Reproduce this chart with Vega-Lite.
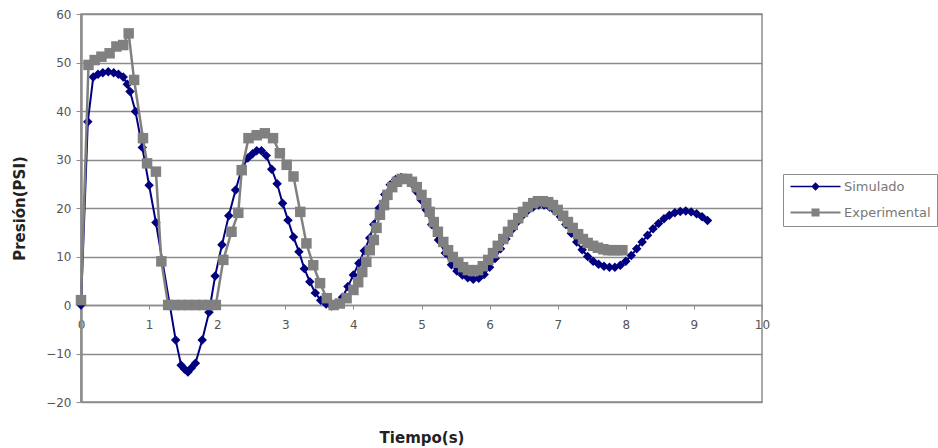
{
  "$schema": "https://vega.github.io/schema/vega-lite/v6.json",
  "autosize": {"type": "none"},
  "width": 681,
  "height": 388,
  "padding": {"left": 81, "top": 14, "right": 176, "bottom": 46},
  "background": "white",
  "config": {
    "view": {"stroke": "#8c8c8c", "strokeWidth": 1.5},
    "font": "DejaVu Sans"
  },
  "datasets": {
    "sim": [
      {"t":0.0,"p":0},{"t":0.1,"p":37.8},{"t":0.18,"p":47.0},{"t":0.25,"p":47.6},{"t":0.32,"p":47.9},{"t":0.4,"p":48.1},{"t":0.48,"p":47.9},{"t":0.55,"p":47.6},{"t":0.62,"p":47.0},{"t":0.68,"p":45.5},{"t":0.72,"p":44.0},{"t":0.8,"p":39.9},{"t":0.9,"p":32.5},{"t":1.0,"p":24.7},{"t":1.1,"p":17.0},{"t":1.39,"p":-7.2},{"t":1.47,"p":-12.4},{"t":1.52,"p":-13.2},{"t":1.57,"p":-13.8},{"t":1.62,"p":-13.0},{"t":1.68,"p":-12.0},{"t":1.78,"p":-7.2},{"t":1.88,"p":-1.5},{"t":1.97,"p":6.0},{"t":2.07,"p":12.4},{"t":2.17,"p":18.4},{"t":2.27,"p":23.7},{"t":2.36,"p":28.0},{"t":2.45,"p":30.3},{"t":2.52,"p":31.2},{"t":2.58,"p":31.8},{"t":2.65,"p":31.8},{"t":2.72,"p":30.8},{"t":2.8,"p":28.0},{"t":2.88,"p":25.0},{"t":2.96,"p":21.0},{"t":3.04,"p":17.5},{"t":3.12,"p":14.0},{"t":3.2,"p":11.0},{"t":3.28,"p":7.5},{"t":3.36,"p":4.8},{"t":3.44,"p":2.5},{"t":3.52,"p":1.0},{"t":3.6,"p":0.2},{"t":3.68,"p":-0.2},{"t":3.76,"p":0.2},{"t":3.84,"p":1.6},{"t":3.92,"p":3.8},{"t":4.0,"p":6.2},{"t":4.08,"p":8.6},{"t":4.16,"p":11.2},{"t":4.24,"p":13.8},{"t":4.3,"p":16.6},{"t":4.38,"p":20.0},{"t":4.46,"p":22.8},{"t":4.54,"p":24.8},{"t":4.62,"p":25.9},{"t":4.7,"p":26.3},{"t":4.78,"p":26.0},{"t":4.86,"p":25.0},{"t":4.94,"p":23.2},{"t":5.0,"p":21.6},{"t":5.07,"p":19.6},{"t":5.15,"p":16.6},{"t":5.25,"p":13.4},{"t":5.35,"p":10.7},{"t":5.44,"p":8.3},{"t":5.52,"p":7.0},{"t":5.6,"p":6.2},{"t":5.68,"p":5.6},{"t":5.76,"p":5.3},{"t":5.84,"p":5.5},{"t":5.92,"p":6.3},{"t":6.0,"p":7.8},{"t":6.08,"p":9.6},{"t":6.16,"p":11.6},{"t":6.24,"p":13.6},{"t":6.32,"p":15.4},{"t":6.4,"p":17.0},{"t":6.48,"p":18.4},{"t":6.56,"p":19.5},{"t":6.64,"p":20.2},{"t":6.72,"p":20.6},{"t":6.8,"p":20.6},{"t":6.88,"p":20.2},{"t":6.96,"p":19.4},{"t":7.04,"p":18.2},{"t":7.12,"p":16.6},{"t":7.2,"p":14.8},{"t":7.28,"p":13.0},{"t":7.36,"p":11.4},{"t":7.44,"p":10.0},{"t":7.52,"p":9.0},{"t":7.6,"p":8.4},{"t":7.68,"p":8.0},{"t":7.76,"p":7.8},{"t":7.84,"p":7.8},{"t":7.92,"p":8.2},{"t":8.0,"p":9.0},{"t":8.08,"p":10.2},{"t":8.16,"p":11.6},{"t":8.24,"p":13.0},{"t":8.32,"p":14.4},{"t":8.4,"p":15.7},{"t":8.48,"p":16.8},{"t":8.56,"p":17.8},{"t":8.64,"p":18.5},{"t":8.72,"p":19.0},{"t":8.8,"p":19.3},{"t":8.88,"p":19.4},{"t":8.96,"p":19.2},{"t":9.04,"p":18.8},{"t":9.12,"p":18.2},{"t":9.2,"p":17.4}
    ],
    "exp": [
      {"t":0.0,"p":1},{"t":0.11,"p":49.5},{"t":0.2,"p":50.5},{"t":0.3,"p":51.2},{"t":0.42,"p":51.9},{"t":0.52,"p":53.3},{"t":0.62,"p":53.6},{"t":0.7,"p":56},{"t":0.78,"p":46.4},{"t":0.91,"p":34.4},{"t":0.97,"p":29.2},{"t":1.1,"p":27.5},{"t":1.18,"p":9.0},{"t":1.28,"p":0},{"t":1.38,"p":0},{"t":1.48,"p":0},{"t":1.58,"p":0},{"t":1.68,"p":0},{"t":1.78,"p":0},{"t":1.88,"p":0},{"t":1.98,"p":0},{"t":2.09,"p":9.3},{"t":2.21,"p":15.1},{"t":2.31,"p":19.0},{"t":2.36,"p":27.8},{"t":2.46,"p":34.4},{"t":2.58,"p":35.0},{"t":2.7,"p":35.4},{"t":2.82,"p":34.4},{"t":2.92,"p":31.3},{"t":3.02,"p":28.9},{"t":3.12,"p":26.5},{"t":3.22,"p":19.2},{"t":3.31,"p":12.7},{"t":3.41,"p":8.2},{"t":3.51,"p":4.5},{"t":3.61,"p":1.4},{"t":3.71,"p":0},{"t":3.8,"p":0.3},{"t":3.9,"p":1.4},{"t":4.0,"p":3.1},{"t":4.07,"p":4.7},{"t":4.13,"p":6.8},{"t":4.19,"p":8.9},{"t":4.24,"p":11.3},{"t":4.3,"p":13.4},{"t":4.34,"p":15.9},{"t":4.39,"p":18.6},{"t":4.45,"p":20.6},{"t":4.5,"p":22.7},{"t":4.57,"p":24.3},{"t":4.64,"p":25.4},{"t":4.71,"p":26.0},{"t":4.79,"p":26.0},{"t":4.86,"p":25.4},{"t":4.93,"p":24.3},{"t":5.0,"p":22.7},{"t":5.07,"p":21.0},{"t":5.12,"p":19.2},{"t":5.18,"p":17.1},{"t":5.24,"p":15.1},{"t":5.32,"p":13.0},{"t":5.39,"p":11.3},{"t":5.46,"p":9.9},{"t":5.54,"p":8.7},{"t":5.61,"p":7.8},{"t":5.68,"p":7.2},{"t":5.76,"p":7.0},{"t":5.83,"p":7.2},{"t":5.9,"p":8.0},{"t":5.98,"p":9.3},{"t":6.05,"p":10.7},{"t":6.12,"p":12.2},{"t":6.2,"p":13.6},{"t":6.27,"p":15.1},{"t":6.34,"p":16.5},{"t":6.42,"p":17.9},{"t":6.49,"p":19.2},{"t":6.56,"p":20.2},{"t":6.64,"p":21.0},{"t":6.71,"p":21.4},{"t":6.78,"p":21.4},{"t":6.86,"p":21.2},{"t":6.93,"p":20.6},{"t":7.0,"p":19.6},{"t":7.08,"p":18.4},{"t":7.15,"p":17.1},{"t":7.22,"p":15.9},{"t":7.3,"p":14.6},{"t":7.37,"p":13.6},{"t":7.44,"p":12.8},{"t":7.52,"p":12.2},{"t":7.59,"p":11.8},{"t":7.67,"p":11.5},{"t":7.74,"p":11.3},{"t":7.81,"p":11.3},{"t":7.88,"p":11.3},{"t":7.95,"p":11.3}
    ],
    "leg": [
      {"serie":"Simulado","t":-1,"p":0},{"serie":"Experimental","t":-1,"p":0}
    ]
  },
  "encoding": {
    "x": {
      "field": "t", "type": "quantitative",
      "scale": {"domain": [0, 10], "nice": false, "zero": false},
      "axis": {
        "title": "Tiempo(s)", "offset": -97, "values": [0,1,2,3,4,5,6,7,8,9,10],
        "grid": false, "domainColor": "#8c8c8c", "domainWidth": 1.5,
        "tickColor": "#8c8c8c", "tickSize": 4, "labelPadding": 10,
        "labelFont": "DejaVu Sans", "labelFontSize": 12, "labelColor": "#555",
        "labelFlush": false,
        "titleFont": "DejaVu Sans", "titleFontSize": 15, "titleFontWeight": "bold", "titleColor": "#222",
        "titleY": 132, "titleBaseline": "middle"
      }
    },
    "y": {
      "field": "p", "type": "quantitative",
      "scale": {"domain": [-20, 60], "nice": false, "zero": false},
      "axis": {
        "title": "Presión(PSI)", "values": [-20,-10,0,10,20,30,40,50,60],
        "grid": true, "gridColor": "#8c8c8c", "gridWidth": 1.5,
        "domainColor": "#8c8c8c", "domainWidth": 2.5,
        "tickColor": "#8c8c8c", "tickSize": 5, "labelPadding": 5,
        "labelFont": "DejaVu Sans", "labelFontSize": 12, "labelColor": "#555",
        "labelFlush": false,
        "titleFont": "DejaVu Sans", "titleFontSize": 15, "titleFontWeight": "bold", "titleColor": "#222",
        "titleX": -54
      }
    }
  },
  "layer": [
    {"data": {"name": "sim"}, "mark": {"type": "line", "color": "#000080", "strokeWidth": 2}},
    {"data": {"name": "sim"}, "mark": {"type": "point", "shape": "diamond", "filled": true, "size": 90, "color": "#000080", "opacity": 1}},
    {"data": {"name": "exp"}, "mark": {"type": "line", "color": "#808080", "strokeWidth": 2.5}},
    {"data": {"name": "exp"}, "mark": {"type": "point", "shape": "square", "filled": true, "size": 110, "color": "#808080", "opacity": 1}},
    {
      "data": {"name": "leg"},
      "transform": [{"filter": "datum.t >= 0"}],
      "mark": {"type": "point", "filled": true, "size": 100, "opacity": 1},
      "encoding": {
        "color": {
          "field": "serie", "type": "nominal",
          "scale": {"domain": ["Simulado", "Experimental"], "range": ["#000080", "#808080"]},
          "legend": {
            "title": null, "orient": "none", "legendX": 702, "legendY": 160,
            "strokeColor": "#8c8c8c", "fillColor": "white", "padding": 6,
            "symbolSize": 100, "symbolStrokeWidth": 0, "labelOffset": 42,
            "labelFont": "DejaVu Sans", "labelFontSize": 13, "labelColor": "#777",
            "rowPadding": 12
          }
        },
        "shape": {
          "field": "serie", "type": "nominal",
          "scale": {"domain": ["Simulado", "Experimental"], "range": ["M-1,-0.15H9V0.15H-1Z M4,-0.85L4.85,0L4,0.85L3.15,0Z", "M-1,-0.2H9V0.2H-1Z M3.2,-0.8H4.8V0.8H3.2Z"]},
          "legend": {
            "title": null, "orient": "none", "legendX": 702, "legendY": 160,
            "strokeColor": "#8c8c8c", "fillColor": "white", "padding": 6,
            "symbolSize": 100, "symbolStrokeWidth": 0, "labelOffset": 42,
            "labelFont": "DejaVu Sans", "labelFontSize": 13, "labelColor": "#777",
            "rowPadding": 12
          }
        }
      }
    }
  ]
}
